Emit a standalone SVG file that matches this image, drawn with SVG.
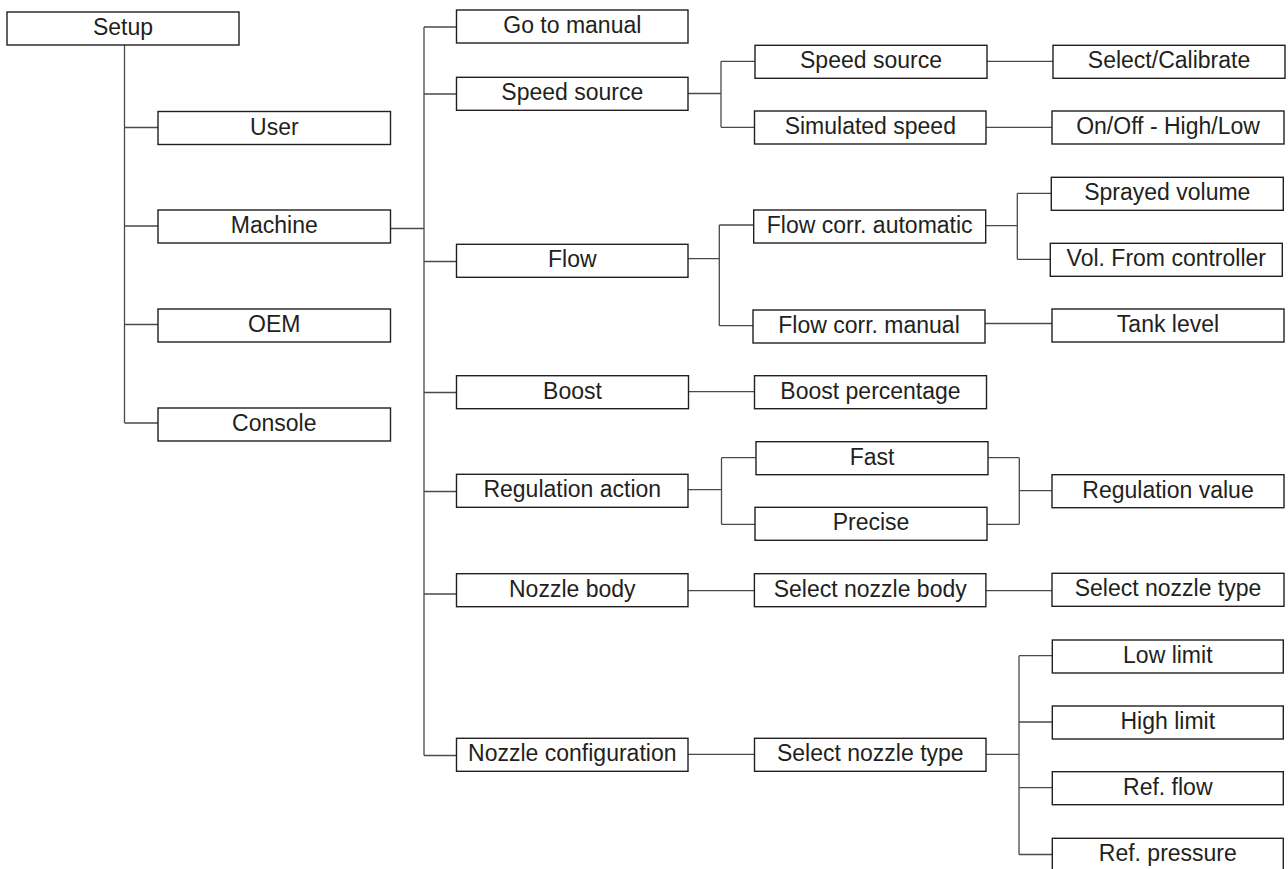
<svg xmlns="http://www.w3.org/2000/svg" width="1288" height="869" viewBox="0 0 1288 869">
<style>
.b{fill:#fff;stroke:#231f20;stroke-width:1.4}
.t{font-family:"Liberation Sans",Arial,sans-serif;font-size:23px;fill:#231f20;text-anchor:middle}
.c{fill:none;stroke:#4a4a4a;stroke-width:1.3}
</style>
<rect width="1288" height="869" fill="#fff"/>
<g id="connectors" class="c">
<path d="M124.5,45V423M124.5,127.5H158M124.5,226H158M124.5,324.5H158M124.5,423H158"/>
<path d="M390,228.5H424M424,27V755.5M424,27H456.5M424,94H456.5M424,261.5H456.5M424,392.5H456.5M424,491.5H456.5M424,594H456.5M424,755.5H456.5"/>
<path d="M688,93.5H721M721,61.3V127.3M721,61.3H755M721,127.3H754.5M987,61.3H1053M986,127.3H1052"/>
<path d="M688,258.7H719.3M719.3,225V325.7M719.3,225H753.7M719.3,325.7H753M985.6,225.7H1017.3M1017.3,193.3V259.3M1017.3,193.3H1051.3M1017.3,259.3H1050.3M985,323.5H1052"/>
<path d="M688.6,391.7H754.5"/>
<path d="M688,489.7H721.5M721.5,457.7V524.3M721.5,457.7H756M721.5,524.3H755M988,457.7H1019.3M987,524.3H1019.3M1019.3,457.7V524.3M1019.3,490.7H1052"/>
<path d="M688,590.7H754.4M986,590.7H1052"/>
<path d="M688,754.3H754.5M986,754.3H1019M1019,655.7V854.5M1019,655.7H1052.3M1019,722H1052.3M1019,787.7H1052.3M1019,854.5H1052.3"/>
</g>
<g id="n-setup"><rect class="b" x="7" y="12" width="232" height="33"/><text class="t" x="123" y="35">Setup</text></g>
<g id="n-user"><rect class="b" x="158" y="111.5" width="232.5" height="33"/><text class="t" x="274.3" y="134.5">User</text></g>
<g id="n-machine"><rect class="b" x="158" y="210" width="232.5" height="33"/><text class="t" x="274.3" y="233">Machine</text></g>
<g id="n-oem"><rect class="b" x="158" y="309" width="232.5" height="33"/><text class="t" x="274.3" y="332">OEM</text></g>
<g id="n-console"><rect class="b" x="158" y="408" width="232.5" height="33"/><text class="t" x="274.3" y="431">Console</text></g>
<g id="n-gotomanual"><rect class="b" x="456.5" y="10" width="231.5" height="33"/><text class="t" x="572.3" y="33">Go to manual</text></g>
<g id="n-speedsource"><rect class="b" x="456.5" y="77.3" width="231.5" height="33"/><text class="t" x="572.3" y="100.3">Speed source</text></g>
<g id="n-flow"><rect class="b" x="456.5" y="244.3" width="231.5" height="33"/><text class="t" x="572.3" y="267.3">Flow</text></g>
<g id="n-boost"><rect class="b" x="456.5" y="375.7" width="232" height="33"/><text class="t" x="572.5" y="398.7">Boost</text></g>
<g id="n-regaction"><rect class="b" x="456.5" y="474.3" width="231.5" height="33"/><text class="t" x="572.3" y="497.3">Regulation action</text></g>
<g id="n-nozzlebody"><rect class="b" x="456.5" y="573.7" width="231.5" height="33"/><text class="t" x="572.3" y="596.7">Nozzle body</text></g>
<g id="n-nozzleconfig"><rect class="b" x="456.5" y="738.3" width="231.5" height="33"/><text class="t" x="572.3" y="761.3">Nozzle configuration</text></g>
<g id="n-speedsource2"><rect class="b" x="755" y="45.3" width="232" height="33"/><text class="t" x="871" y="68.3">Speed source</text></g>
<g id="n-simspeed"><rect class="b" x="754.5" y="111" width="231.5" height="33"/><text class="t" x="870.3" y="134">Simulated speed</text></g>
<g id="n-flowauto"><rect class="b" x="753.7" y="210" width="232" height="33"/><text class="t" x="869.7" y="233">Flow corr. automatic</text></g>
<g id="n-flowmanual"><rect class="b" x="753" y="310" width="232" height="33"/><text class="t" x="869" y="333">Flow corr. manual</text></g>
<g id="n-boostpct"><rect class="b" x="754.5" y="375.7" width="232" height="33"/><text class="t" x="870.5" y="398.7">Boost percentage</text></g>
<g id="n-fast"><rect class="b" x="756" y="441.7" width="232" height="33"/><text class="t" x="872" y="464.7">Fast</text></g>
<g id="n-precise"><rect class="b" x="755" y="507.3" width="232" height="33"/><text class="t" x="871" y="530.3">Precise</text></g>
<g id="n-selnozzlebody"><rect class="b" x="754.4" y="573.7" width="231.5" height="33"/><text class="t" x="870.2" y="596.7">Select nozzle body</text></g>
<g id="n-selnozzletype"><rect class="b" x="754.5" y="738.3" width="231.5" height="33"/><text class="t" x="870.3" y="761.3">Select nozzle type</text></g>
<g id="n-selcal"><rect class="b" x="1053" y="45.3" width="232" height="33"/><text class="t" x="1169" y="68.3">Select/Calibrate</text></g>
<g id="n-onoff"><rect class="b" x="1052" y="111" width="232" height="33"/><text class="t" x="1168" y="134">On/Off - High/Low</text></g>
<g id="n-sprayed"><rect class="b" x="1051.3" y="177.3" width="232" height="33"/><text class="t" x="1167.3" y="200.3">Sprayed volume</text></g>
<g id="n-volctrl"><rect class="b" x="1050.3" y="243.3" width="232" height="33"/><text class="t" x="1166.3" y="266.3">Vol. From controller</text></g>
<g id="n-tank"><rect class="b" x="1052" y="309" width="232" height="33"/><text class="t" x="1168" y="332">Tank level</text></g>
<g id="n-regvalue"><rect class="b" x="1052" y="474.7" width="232" height="33"/><text class="t" x="1168" y="497.7">Regulation value</text></g>
<g id="n-selnozzletype2"><rect class="b" x="1052" y="573.3" width="232" height="33"/><text class="t" x="1168" y="596.3">Select nozzle type</text></g>
<g id="n-lowlimit"><rect class="b" x="1052.3" y="640" width="231" height="33"/><text class="t" x="1167.8" y="663">Low limit</text></g>
<g id="n-highlimit"><rect class="b" x="1052.3" y="706" width="231" height="33"/><text class="t" x="1167.8" y="729">High limit</text></g>
<g id="n-refflow"><rect class="b" x="1052.3" y="771.7" width="231" height="33"/><text class="t" x="1167.8" y="794.7">Ref. flow</text></g>
<g id="n-refpressure"><rect class="b" x="1052.3" y="838.3" width="231" height="33"/><text class="t" x="1167.8" y="861.3">Ref. pressure</text></g>
</svg>
